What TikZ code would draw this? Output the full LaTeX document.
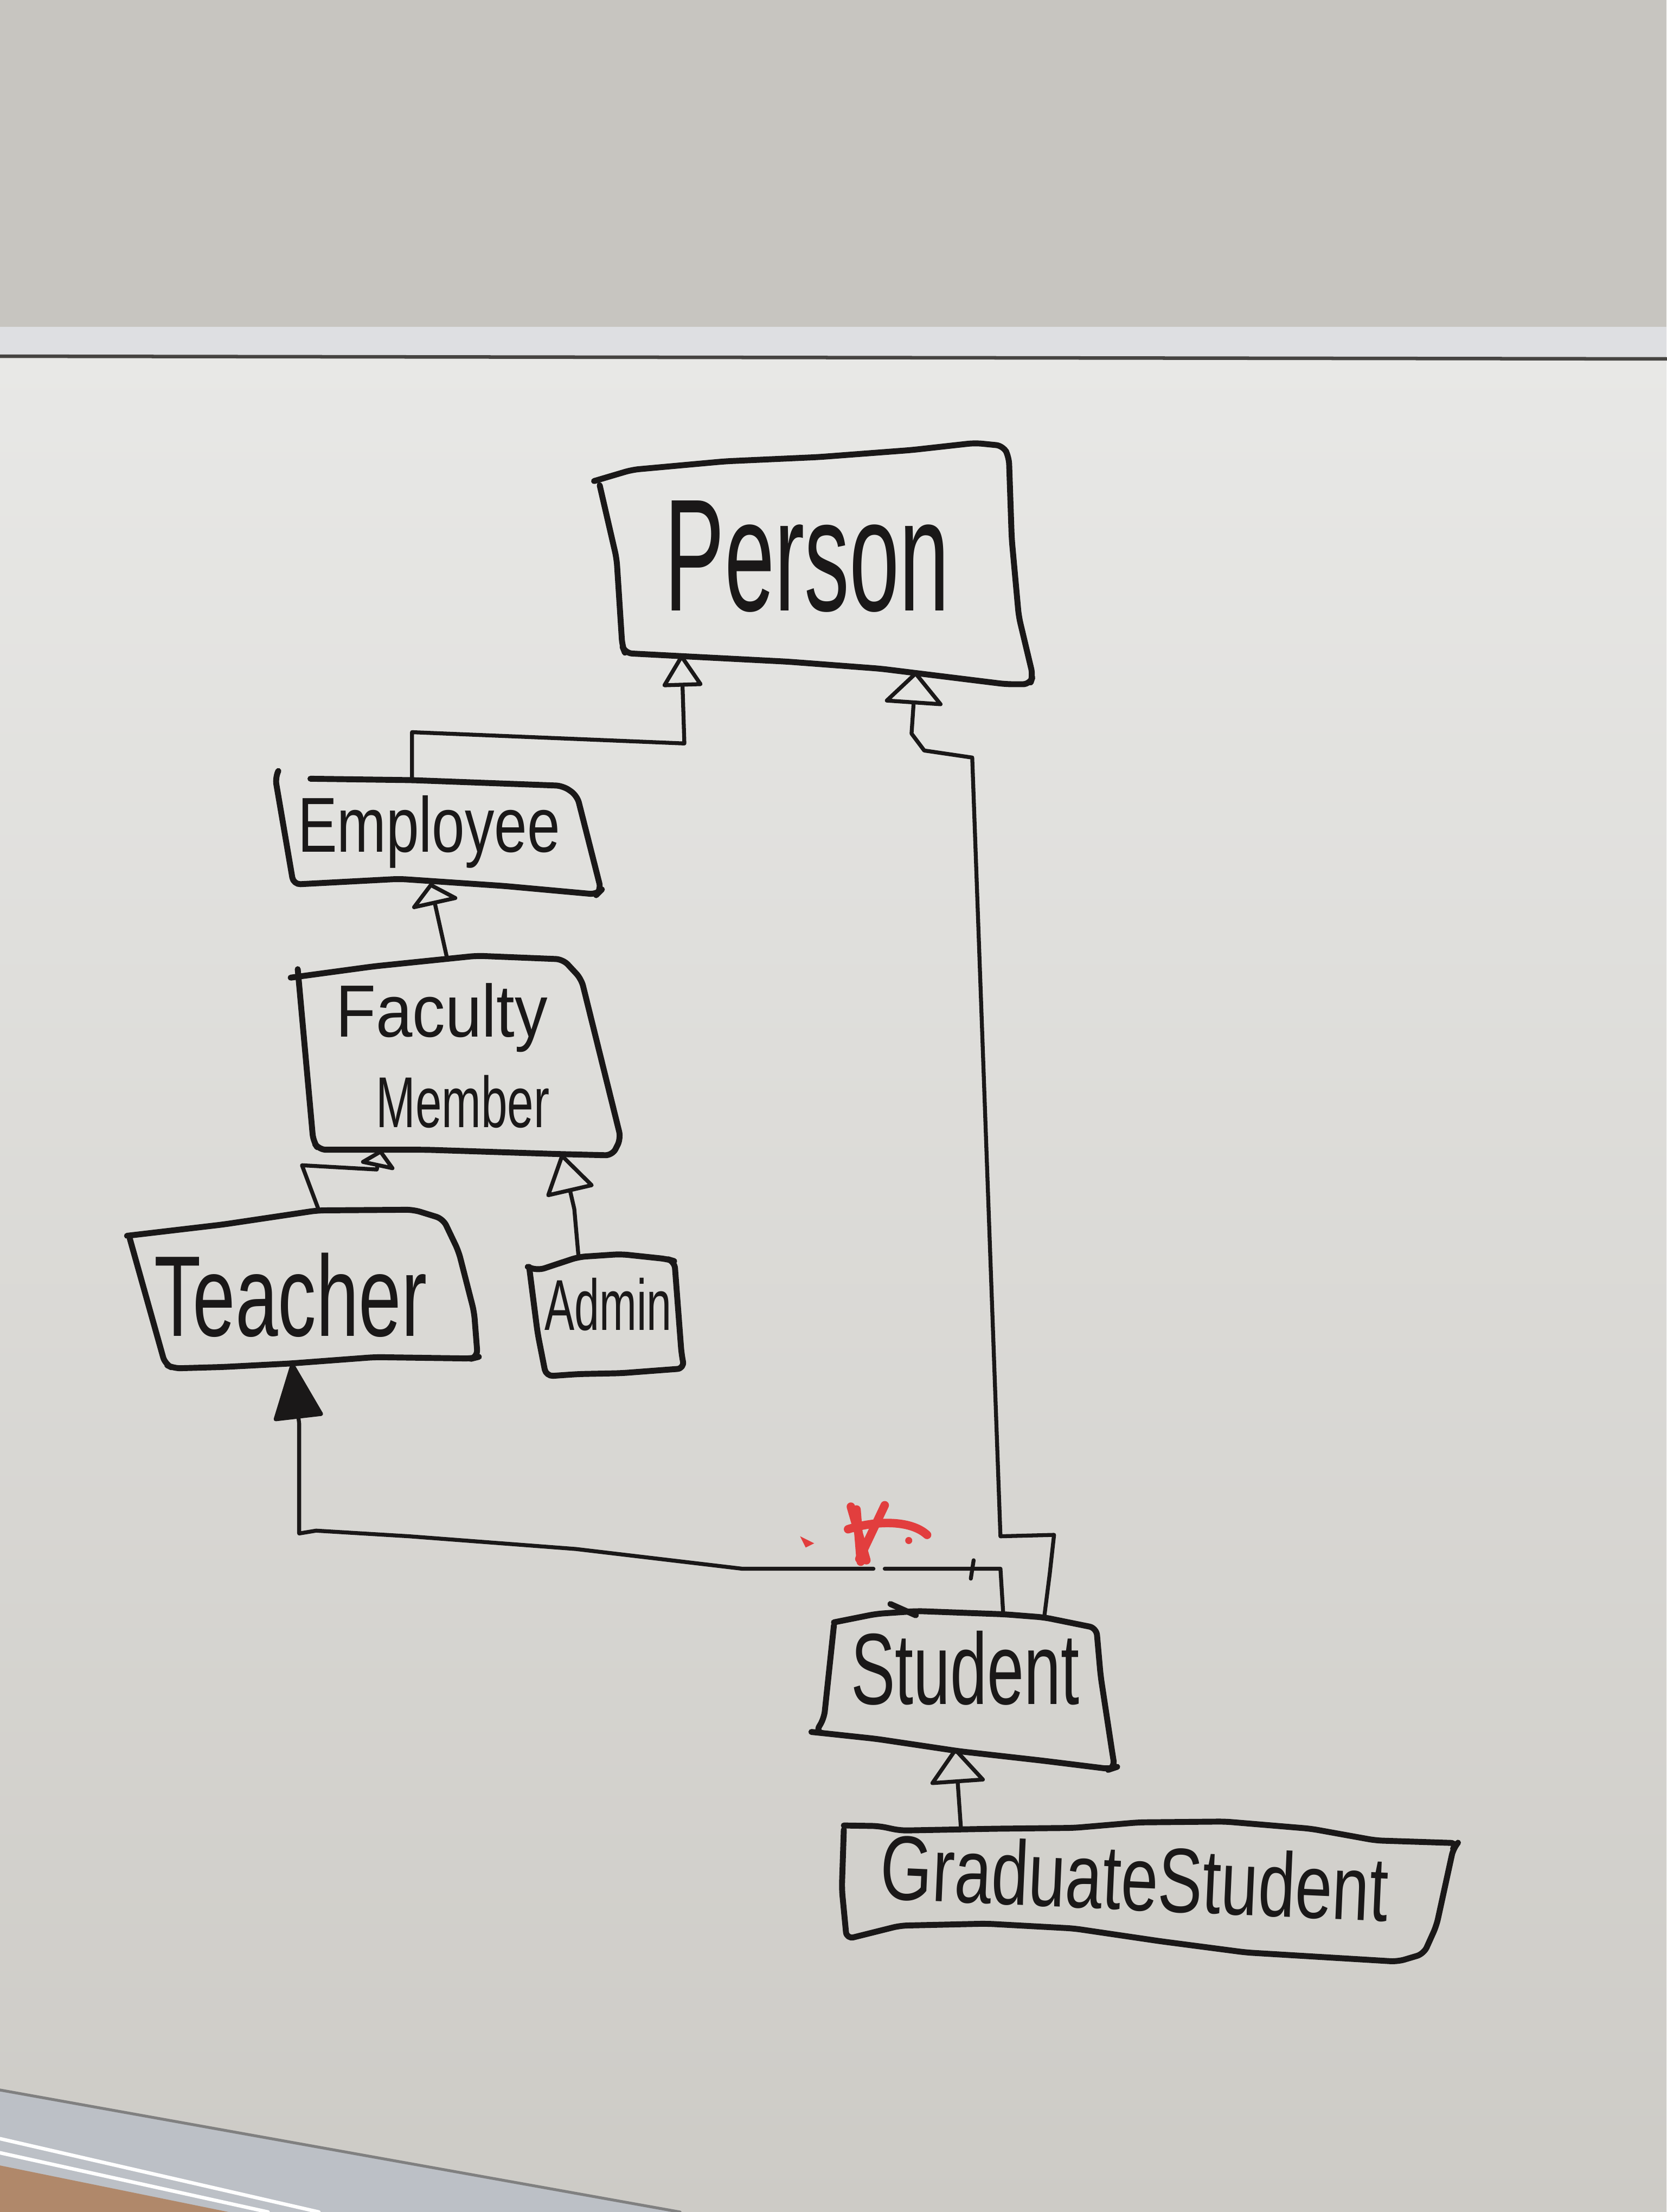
\documentclass[tikz,border=0pt]{standalone}
\usepackage{fontspec}
\usepackage{graphicx}
\setmainfont{Liberation Sans}
\usetikzlibrary{arrows.meta}

\definecolor{wall}{RGB}{199,197,192}
\definecolor{boardtop}{RGB}{232,232,230}
\definecolor{boardbot}{RGB}{205,203,198}
\definecolor{rail}{RGB}{222,223,226}
\definecolor{railedge}{RGB}{70,68,66}
\definecolor{tray}{RGB}{188,192,198}
\definecolor{floorwood}{RGB}{176,136,106}
\definecolor{ink}{RGB}{26,24,24}
\definecolor{redink}{RGB}{226,62,62}

% marker lettering: text squeezed to a given width and height
\newcommand{\markertext}[3]{\resizebox{#1}{#2}{#3}}

\begin{document}
\begin{tikzpicture}[x=0.1mm, y=-0.1mm, line join=round, line cap=round,
  boxline/.style={draw=ink, line width=0.42mm, rounded corners=0.5mm},
  wire/.style={draw=ink, line width=0.28mm},
  genarrow/.style 2 args={wire, -{Triangle[open, round, length=#1, width=#2]}},
  solidarrow/.style 2 args={wire, -{Triangle[round, length=#1, width=#2]}},
  handtext/.style={inner sep=0pt, anchor=base, text=ink},
  redmark/.style={draw=redink, line width=0.6mm, line cap=round}]

\useasboundingbox (0,0) rectangle (1181,1568);

% ---- wall, board and aluminium trim ----
\fill[wall] (0,0) rectangle (1181,234);
\shade[top color=boardtop, bottom color=boardbot] (0,252) rectangle (1181,1568);
\fill[rail] (0,231.7) -- (1181,231.7) -- (1181,254.4) -- (0,252.5) -- cycle;
\draw[railedge, line width=0.25mm] (0,252.5) -- (1181,254.4);
\fill[tray] (0,1481.5) -- (482,1568) -- (0,1568) -- cycle;
\draw[gray, line width=0.2mm] (0,1481.5) -- (482,1568);
\draw[white, line width=0.25mm] (0,1516) -- (226,1568);
\draw[white, line width=0.25mm] (0,1526) -- (190,1568);
\fill[floorwood] (0,1535) -- (162,1568) -- (0,1568) -- cycle;

% ---- class boxes ----
% Person
\draw[boxline] (421,341) -- (448,333) -- (514,327) -- (580,324) -- (646,319)
  -- (691,314) -- (711,316) -- (715,324) -- (717,382) -- (722,437) -- (732,479)
  -- (730,485) -- (713,485) -- (624,474) -- (558,469) -- (481,465) -- (443,463)
  -- (441,458) -- (437,396) -- (425,344);
\node[handtext] (person) at (572,433) {\markertext{20.2mm}{7.8mm}{Person}};
\coordinate (person-s1) at (483,464);
\coordinate (person-s2) at (649,476);

% Employee
\draw[boxline] (220,552) -- (292,553) -- (399,557) -- (409,564) -- (426,631)
  -- (423,634) -- (357,628) -- (283,623) -- (208,627) -- (195,551) -- (197,547);
\node[handtext] (employee) at (304,604) {\markertext{18.6mm}{4.0mm}{Employee}};
\coordinate (employee-n) at (292,553);
\coordinate (employee-s) at (305,626);

% Faculty Member
\draw[boxline] (206,693) -- (265,685) -- (338,677.5) -- (399,680) -- (412,694)
  -- (440,807) -- (434,819) -- (394,818) -- (302,815) -- (226,815) -- (222,809)
  -- (211,687);
\node[handtext] (faculty) at (313,735) {\markertext{15.0mm}{3.8mm}{Faculty}};
\node[handtext] (member) at (328,799) {\markertext{12.3mm}{3.7mm}{Member}};
\coordinate (faculty-n) at (317,680);
\coordinate (faculty-s1) at (270,815);
\coordinate (faculty-s2) at (398,818);

% Teacher
\draw[boxline] (90,876) -- (158,868) -- (225,858) -- (293,857.5) -- (314,864)
  -- (325,887) -- (336,930) -- (338.5,962) -- (334.5,963) -- (266,962)
  -- (206,966.5) -- (158,969) -- (123,970) -- (117,967) -- (92,878);
\node[handtext] (teacher) at (206,947) {\markertext{19.3mm}{5.9mm}{Teacher}};
\coordinate (teacher-n) at (226,858);
\coordinate (teacher-s) at (207,966);

% Admin
\draw[boxline] (374,898) -- (381,900.6) -- (410,891) -- (440,889) -- (473,892.5)
  -- (478,894) -- (483,960) -- (485,970) -- (440,973.4) -- (410,974)
  -- (387,975.6) -- (381,945) -- (375,898);
\node[handtext] (admin) at (431,943) {\markertext{9.0mm}{3.7mm}{Admin}};
\coordinate (admin-n) at (410,891);

% Student
\draw[boxline] (631,1137) -- (649,1145);
\draw[boxline] (591,1150) -- (621,1144) -- (650,1142) -- (712,1144.3) -- (740,1146.5)
  -- (777,1154) -- (780,1188) -- (788.5,1244) -- (790,1253) -- (787,1254)
  -- (738.5,1248) -- (680,1241.4) -- (621,1232.6) -- (580,1228.2) -- (578,1228)
  -- (584,1218) -- (591,1152);
\node[handtext] (student) at (684,1208) {\markertext{16.2mm}{5.2mm}{Student}};
\coordinate (student-n1) at (711,1144.3);
\coordinate (student-n2) at (740,1146.5);
\coordinate (student-s) at (677,1239);

% GraduateStudent
\draw[boxline] (598,1294) -- (623,1294.4) -- (638,1297.6) -- (705,1296.3)
  -- (761,1295.7) -- (807,1291.8) -- (868,1291.2) -- (929,1296.3) -- (975,1304.6)
  -- (1033,1306.5) -- (1030,1310) -- (1018,1365) -- (1009,1385) -- (990.5,1390.5)
  -- (883,1384) -- (822,1376) -- (761,1367) -- (699,1363.6) -- (638,1365)
  -- (600,1374.5) -- (596.6,1339) -- (598,1297);
\node[handtext, rotate=-2.5] (grad) at (803,1354) {\markertext{36.0mm}{4.7mm}{GraduateStudent}};
\coordinate (grad-n) at (681,1296);

% ---- generalisation connectors ----
\draw[genarrow={2.4mm}{3.0mm}] (employee-n) -- (292,519) -- (485,527) -- (person-s1);
\draw[genarrow={2.4mm}{4.4mm}] (student-n2) -- (744,1115) -- (747,1088) -- (709,1089)
  -- (689,537) -- (655,532) -- (646,520) -- (person-s2);
\draw[genarrow={1.6mm}{3.7mm}] (faculty-n) -- (employee-s);
\draw[genarrow={1.3mm}{2.8mm}] (teacher-n) -- (214,826) -- (267,829) -- (faculty-s1);
\draw[genarrow={2.9mm}{3.6mm}] (admin-n) -- (407,857) -- (faculty-s2);
\draw[genarrow={2.6mm}{4.1mm}] (grad-n) -- (student-s);

% Student to Teacher, with a small break under the red cross
\coordinate (gap-e) at (627,1112);
\coordinate (gap-w) at (619,1112);
\draw[wire] (student-n1) -- (709,1112) -- (gap-e);
\draw[wire] (690,1106) -- (688,1119);
\draw[solidarrow={4.2mm}{3.6mm}] (gap-w) -- (526,1112) -- (408,1098) -- (290,1089)
  -- (224,1085) -- (212,1087) -- (212,1009) -- (teacher-s);

% ---- red cross-out ----
\draw[redmark] (603,1068) -- (614,1106);
\draw[redmark] (607,1070) -- (610,1107);
\draw[redmark] (627,1067) -- (609,1105);
\draw[redmark] (601,1084) .. controls (620,1078) and (645,1077) .. (657,1088);
\fill[redink] (567,1089) -- (577,1094) -- (571,1097) -- cycle;
\fill[redink] (644,1092) circle (2.5);

\end{tikzpicture}
\end{document}
